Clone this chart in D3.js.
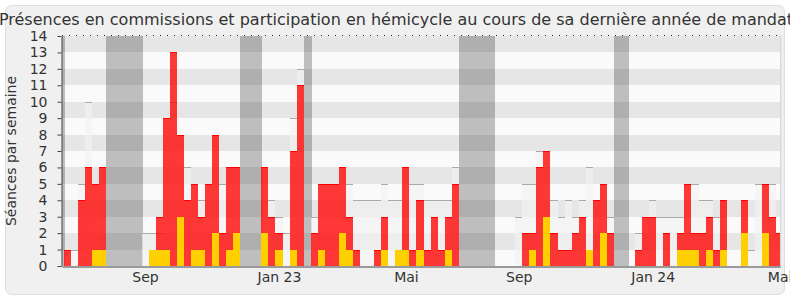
<!DOCTYPE html>
<html>
<head>
<meta charset="utf-8">
<script src="https://cdn.jsdelivr.net/npm/d3@7/dist/d3.min.js"></script>
<style>
  body { margin: 0; background: #fff; }
  svg text { font-family: "DejaVu Sans", Verdana, sans-serif; fill: #333; }
</style>
</head>
<body>
<div id="chart"></div>
<script>
// one value per week, oldest first
const commission = [
  1, 0, 4, 6, 5, 6, 0, 0, 0, 0,
  0, 0, 0, 3, 9, 13, 8, 4, 5, 3,
  5, 8, 2, 6, 6, 0, 0, 0, 6, 3,
  2, 0, 7, 11, 0, 2, 5, 5, 5, 6,
  3, 1, 0, 0, 1, 3, 0, 0, 6, 1,
  4, 1, 3, 1, 3, 5, 0, 0, 0, 0,
  0, 0, 0, 0, 0, 2, 2, 6, 7, 2,
  1, 1, 2, 3, 0, 4, 5, 2, 0, 0,
  0, 1, 3, 3, 0, 2, 0, 2, 5, 2,
  2, 3, 1, 4, 0, 0, 4, 0, 0, 5,
  3, 2
];
const hemicycle = [
  0, 1, 5, 10, 0, 0, 0, 0, 0, 0,
  0, 2, 2, 2, 0, 10, 0, 6, 0, 4,
  0, 0, 5, 0, 0, 0, 0, 0, 0, 4,
  3, 2, 9, 12, 0, 3, 0, 0, 0, 0,
  5, 4, 4, 4, 4, 5, 4, 4, 0, 5,
  5, 4, 4, 4, 4, 6, 0, 0, 0, 0,
  0, 0, 0, 0, 3, 5, 5, 7, 0, 4,
  3, 4, 3, 4, 6, 0, 0, 3, 0, 0,
  0, 2, 0, 4, 3, 3, 3, 3, 0, 5,
  4, 4, 3, 0, 0, 0, 0, 1, 5, 5,
  5, 0
];
const interventions = [
  0, 0, 0, 0, 1, 1, 0, 0, 0, 0,
  0, 0, 1, 1, 1, 0, 3, 0, 1, 1,
  0, 2, 0, 1, 2, 0, 0, 0, 2, 0,
  1, 0, 1, 0, 0, 0, 1, 0, 0, 2,
  1, 0, 0, 0, 0, 1, 0, 1, 1, 0,
  1, 0, 0, 0, 1, 0, 0, 0, 0, 0,
  0, 0, 0, 0, 0, 0, 1, 0, 3, 0,
  0, 0, 0, 0, 1, 0, 2, 0, 0, 0,
  0, 0, 0, 0, 0, 0, 0, 1, 1, 1,
  0, 1, 0, 1, 0, 0, 2, 0, 0, 2,
  0, 0
];
// parliamentary breaks, in weeks
const vacances = [[-0.28, 0.1], [6, 11.2], [25, 28.04], [34.08, 35.13], [56.03, 61.13], [78.06, 80.14]];
const monthWeeks = [11, 30, 48, 64, 83, 101];
const monthLabels = ["Sep", "Jan 23", "Mai", "Sep", "Jan 24", "Mai"];
const yTicks = d3.range(0, 15);

const w = 790, h = 300;
const plotLeft = 62, plotRight = 780.3, plotTop = 36, plotBottom = 266;

const x = d3.scaleLinear().domain([-0.28, 101.6]).range([plotLeft, plotRight]);
const y = d3.scaleLinear().domain([0, 14]).range([plotBottom, plotTop]);

const svg = d3.select("#chart").append("svg")
  .attr("width", w)
  .attr("height", h);

svg.append("rect")
  .attr("x", 5.5).attr("y", 5.5)
  .attr("width", 779).attr("height", 289)
  .attr("rx", 6)
  .attr("fill", "#f0f0f0")
  .attr("stroke", "#dedede");

svg.append("text")
  .attr("x", 396)
  .attr("y", 25)
  .attr("text-anchor", "middle")
  .style("font-size", "16px")
  .text("Présences en commissions et participation en hémicycle au cours de sa dernière année de mandat");

// striped background
svg.append("g").selectAll("rect")
  .data(d3.range(0, 14))
  .enter().append("rect")
  .attr("x", plotLeft)
  .attr("y", d => y(d + 1))
  .attr("width", plotRight - plotLeft)
  .attr("height", d => y(d) - y(d + 1))
  .attr("fill", d => d % 2 === 0 ? "#fafafa" : "#e6e6e6")
  .attr("shape-rendering", "crispEdges");

svg.append("g").selectAll("rect")
  .data(vacances)
  .enter().append("rect")
  .attr("x", d => x(d[0]))
  .attr("y", plotTop)
  .attr("width", d => x(d[1]) - x(d[0]))
  .attr("height", plotBottom - plotTop)
  .attr("fill", "rgba(0,0,0,0.24)")
  .attr("shape-rendering", "crispEdges");

function bars(values, fill, line) {
  const g = svg.append("g");
  const data = values.map((v, i) => ({ i: i, v: v })).filter(d => d.v > 0);
  g.selectAll("rect")
    .data(data)
    .enter().append("rect")
    .attr("x", d => x(d.i))
    .attr("y", d => y(d.v))
    .attr("width", d => Math.min(x(d.i + 1), plotRight) - x(d.i))
    .attr("height", d => y(0) - y(d.v))
    .attr("fill", fill)
    .attr("shape-rendering", "crispEdges");
  if (line) {
    g.selectAll("line")
      .data(data)
      .enter().append("line")
      .attr("x1", d => x(d.i))
      .attr("x2", d => Math.min(x(d.i + 1), plotRight))
      .attr("y1", d => Math.round(y(d.v)) + 0.5)
      .attr("y2", d => Math.round(y(d.v)) + 0.5)
      .attr("stroke", line)
      .attr("shape-rendering", "crispEdges");
  }
}

bars(hemicycle, "rgba(242,242,242,0.65)", "#aaaaaa");
bars(commission, "rgba(255,0,0,0.78)", "#ff0000");
bars(interventions, "#ffd000", null);

// dotted top line
svg.append("line")
  .attr("x1", plotLeft).attr("x2", plotRight)
  .attr("y1", plotTop - 0.5).attr("y2", plotTop - 0.5)
  .attr("stroke", "#222")
  .attr("stroke-dasharray", "1,6");

svg.append("line")
  .attr("x1", plotRight + 0.5).attr("x2", plotRight + 0.5)
  .attr("y1", plotTop).attr("y2", plotBottom)
  .attr("stroke", "#d0d0d0");

const yAxis = svg.append("g")
  .attr("transform", "translate(" + (plotLeft - 0.5) + ",0)")
  .call(d3.axisLeft(y).tickValues(yTicks).tickSize(4).tickSizeOuter(0).tickPadding(10));
yAxis.selectAll("text").style("font-size", "14px");
yAxis.selectAll("line, path").attr("stroke", "#444");

const xAxis = svg.append("g")
  .attr("transform", "translate(0," + (plotBottom + 0.5) + ")")
  .call(d3.axisBottom(x)
    .tickValues(monthWeeks.map(d => d + 0.5))
    .tickFormat((d, i) => monthLabels[i])
    .tickSize(0)
    .tickPadding(6));
xAxis.selectAll("text").style("font-size", "14px");
xAxis.select("path").attr("stroke", "#444");

svg.append("text")
  .attr("transform", "translate(16," + ((plotTop + plotBottom) / 2) + ") rotate(-90)")
  .attr("text-anchor", "middle")
  .style("font-size", "14px")
  .text("Séances par semaine");
</script>
</body>
</html>
